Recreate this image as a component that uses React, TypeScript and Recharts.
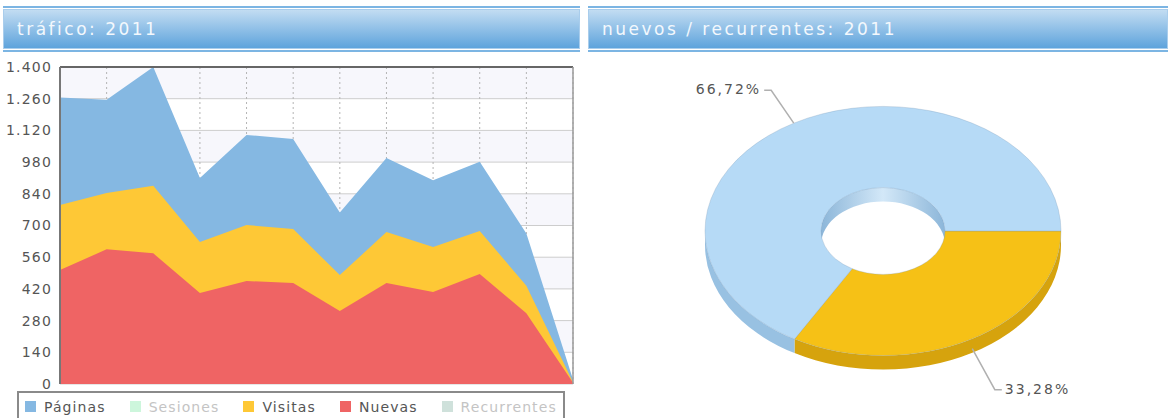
import React from "react";
import {
  AreaChart,
  Area,
  XAxis,
  YAxis,
  CartesianGrid,
  ReferenceLine,
  PieChart,
  Pie,
  Cell,
  Tooltip,
} from "recharts";

// ---- data ----
const months = ["ene", "feb", "mar", "abr", "may", "jun", "jul", "ago", "sep", "oct", "nov", "dic"];
const paginas = [1265, 1255, 1400, 910, 1100, 1082, 757, 998, 900, 981, 665, 20];
const visitas = [790, 843, 876, 627, 702, 684, 481, 671, 605, 676, 434, 8];
const nuevas = [503, 595, 577, 402, 455, 446, 322, 446, 406, 486, 313, 5];
const yTicks = [0, 140, 280, 420, 560, 700, 840, 980, 1120, 1260, 1400];

const legendNames = ["Páginas", "Sesiones", "Visitas", "Nuevas", "Recurrentes"];
const legendColors = ["#85b8e2", "#cdf6dc", "#fec836", "#ef6464", "#cfe1db"];
const legendActive = [true, false, true, true, false];

const pieNames = ["recurrentes", "nuevos"];
const pieValues = [33.28, 66.72];
const pieTop = ["#f6c116", "#b6daf6"];
const pieSide = ["#d6a30d", "#98c1e2"];

const trafficData = months.map((m, i) => ({
  mes: m,
  paginas: paginas[i],
  visitas: visitas[i],
  nuevas: nuevas[i],
}));
const pieData = pieNames.map((n, i) => ({ name: n, value: pieValues[i] }));

// ---- helpers ----
const fmtThousands = (v: number) =>
  v >= 1000 ? `${Math.floor(v / 1000)}.${String(v % 1000).padStart(3, "0")}` : String(v);

const RAD = Math.PI / 180;
const K = 0.7; // ellipse squash
const DEPTH = 14;

const pt = (cx: number, cy: number, rx: number, ry: number, a: number, dy = 0) => [
  cx + rx * Math.cos(a * RAD),
  cy - ry * Math.sin(a * RAD) + dy,
];

const arc = (cx: number, cy: number, rx: number, ry: number, a1: number, a2: number, dy: number, move: boolean) => {
  const [x1, y1] = pt(cx, cy, rx, ry, a1, dy);
  const [x2, y2] = pt(cx, cy, rx, ry, a2, dy);
  const large = Math.abs(a2 - a1) > 180 ? 1 : 0;
  const sweep = a2 < a1 ? 1 : 0;
  return `${move ? "M" : "L"}${x1},${y1} A${rx},${ry} 0 ${large} ${sweep} ${x2},${y2}`;
};

const clip = (lo: number, hi: number, base: number) => {
  const out: number[][] = [];
  for (let k = -2; k <= 2; k++) {
    const a = Math.max(lo, base + 360 * k);
    const b = Math.min(hi, base + 180 + 360 * k);
    if (b - a > 0.01) out.push([a, b]);
  }
  return out;
};

const sideOf = (fill: string) => pieSide[pieTop.indexOf(fill)] || fill;

const WallShape = (p: any) => {
  const { cx, cy, innerRadius, outerRadius, startAngle, endAngle, fill } = p;
  const lo = Math.min(startAngle, endAngle);
  const hi = Math.max(startAngle, endAngle);
  const ro = outerRadius, ri = innerRadius;
  const outer = clip(lo, hi, -180);
  const inner = clip(lo, hi, 0);
  return (
    <g>
      <defs>
        <linearGradient id="innerWall" x1="0" y1="0" x2="1" y2="0">
          <stop offset="0%" stopColor="#8cb6d9" />
          <stop offset="50%" stopColor="#d3e8f8" />
          <stop offset="100%" stopColor="#8cb6d9" />
        </linearGradient>
      </defs>
      {outer.map(([a, b], i) => (
        <path
          key={`o${i}`}
          d={arc(cx, cy, ro, ro * K, b, a, 0, true) + arc(cx, cy, ro, ro * K, a, b, DEPTH, false) + "Z"}
          fill={sideOf(fill)}
        />
      ))}
      {inner.map(([a, b], i) => (
        <path
          key={`i${i}`}
          d={arc(cx, cy, ri, ri * K, b, a, 0, true) + arc(cx, cy, ri, ri * K, a, b, DEPTH, false) + "Z"}
          fill="url(#innerWall)"
        />
      ))}
    </g>
  );
};

const TopShape = (p: any) => {
  const { cx, cy, innerRadius, outerRadius, startAngle, endAngle, fill } = p;
  const ro = outerRadius, ri = innerRadius;
  const d =
    arc(cx, cy, ro, ro * K, startAngle, endAngle, 0, true) +
    arc(cx, cy, ri, ri * K, endAngle, startAngle, 0, false) +
    "Z";
  return <path d={d} fill={fill} stroke="rgba(120,150,180,0.35)" strokeWidth={0.8} />;
};

const PieLabel = (p: any) => {
  const { cx, cy, outerRadius, midAngle, value } = p;
  const ro = outerRadius;
  const c = Math.cos(midAngle * RAD);
  const s = Math.sin(midAngle * RAD);
  const lower = s < 0;
  const [ex, ey] = pt(cx, cy, ro, ro * K, midAngle, lower ? DEPTH * 0.7 : 0);
  const [bx, by] = pt(cx, cy, ro + 45, ro * K + 38, midAngle, lower ? DEPTH + 4 : 0);
  const dir = c >= 0 ? 1 : -1;
  const hx = bx + dir * 7;
  const txt = value.toFixed(2).replace(".", ",") + "%";
  return (
    <g>
      <polyline points={`${ex},${ey} ${bx},${by} ${hx},${by}`} fill="none" stroke="#b0b0b0" strokeWidth={1.5} />
      <text
        x={hx + dir * 3}
        y={by}
        textAnchor={dir > 0 ? "start" : "end"}
        dominantBaseline="middle"
        fill="#555"
        fontSize={14}
        letterSpacing={2}
        fontFamily='"DejaVu Sans", Verdana, sans-serif'
      >
        {txt}
      </text>
    </g>
  );
};

const DashedVertical = (p: any) => (
  <line
    key={p.key}
    x1={p.x1}
    y1={p.y1}
    x2={p.x2}
    y2={p.y2}
    stroke="#b4b4b4"
    strokeWidth={1}
    strokeDasharray="2 3"
    fill="none"
  />
);

const NoTick = () => <g />;

const Header = ({ left, width, title }: { left: number; width: number; title: string }) => (
  <div
    style={{
      position: "absolute",
      left,
      top: 6,
      width,
      height: 46,
      boxSizing: "border-box",
      borderTop: "2px solid #7cb5e3",
      borderBottom: "2px solid #7cb5e3",
      background: "#fff",
    }}
  >
    <div
      style={{
        margin: "1px 0",
        height: 40,
        boxSizing: "border-box",
        border: "1px solid #a9cdec",
        background: "linear-gradient(#c2dcf2, #5ea3dc)",
        color: "#f3f8fd",
        fontSize: 17,
        letterSpacing: 2.5,
        lineHeight: "38px",
        paddingLeft: 13,
        whiteSpace: "nowrap",
      }}
    >
      {title}
    </div>
  </div>
);

const tickStyle = {
  fontSize: 14,
  fill: "#555",
  letterSpacing: 1.2,
  fontFamily: '"DejaVu Sans", Verdana, sans-serif',
};

export default function App() {
  return (
    <div
      style={{
        position: "absolute",
        left: 0,
        top: 0,
        width: 1168,
        height: 418,
        overflow: "hidden",
        background: "#fff",
        fontFamily: '"DejaVu Sans", Verdana, sans-serif',
      }}
    >
      <Header left={3} width={577} title="tráfico: 2011" />
      <Header left={588} width={580} title="nuevos / recurrentes: 2011" />

      <div style={{ position: "absolute", left: 0, top: 0 }}>
        <AreaChart width={580} height={418} data={trafficData} margin={{ top: 67, right: 7, left: 0, bottom: 34 }}>
          <CartesianGrid
            stroke="#cdcdcd"
            horizontalFill={["#dcdcf0", "transparent"]}
            fillOpacity={0.22}
            vertical={DashedVertical}
          />
          <XAxis dataKey="mes" tick={NoTick} tickLine={false} height={0} axisLine={{ stroke: "#777", strokeWidth: 2 }} />
          <YAxis
            width={60}
            domain={[0, 1400]}
            ticks={yTicks}
            interval={0}
            tickFormatter={fmtThousands}
            tickLine={false}
            axisLine={{ stroke: "#777", strokeWidth: 2 }}
            tick={tickStyle}
          />
          <Area type="linear" dataKey="paginas" stroke="none" fill="#85b8e2" fillOpacity={1} isAnimationActive={false} dot={false} activeDot={false} />
          <Area type="linear" dataKey="visitas" stroke="none" fill="#fec836" fillOpacity={1} isAnimationActive={false} dot={false} activeDot={false} />
          <Area type="linear" dataKey="nuevas" stroke="none" fill="#ef6464" fillOpacity={1} isAnimationActive={false} dot={false} activeDot={false} />
          <ReferenceLine y={1400} stroke="#666" strokeWidth={2} />
          <ReferenceLine x="dic" stroke="#9a9a9a" strokeWidth={1.5} />
        </AreaChart>
      </div>

      <div
        style={{
          position: "absolute",
          left: 17,
          top: 391,
          width: 548,
          height: 40,
          boxSizing: "border-box",
          border: "2px solid #8a8a8a",
          display: "flex",
          paddingLeft: 6,
          paddingTop: 8,
          fontSize: 14,
          letterSpacing: 1.1,
          lineHeight: "13px",
        }}
      >
        {legendNames.map((n, i) => (
          <div key={n} style={{ display: "flex", alignItems: "flex-start", marginRight: 24 }}>
            <div style={{ width: 11, height: 11, background: legendColors[i], marginRight: 8 }} />
            <span style={{ color: legendActive[i] ? "#555" : "#c4c4c4" }}>{n}</span>
          </div>
        ))}
      </div>

      <div style={{ position: "absolute", left: 588, top: 55 }}>
        <PieChart width={580} height={363}>
          <Pie
            data={pieData}
            dataKey="value"
            cx={290}
            cy={171}
            innerRadius={62}
            outerRadius={178}
            startAngle={0}
            endAngle={-360}
            stroke="none"
            isAnimationActive={false}
            shape={WallShape}
            activeShape={WallShape}
            inactiveShape={WallShape}
          >
            {pieData.map((d, i) => (
              <Cell key={d.name} fill={pieTop[i]} />
            ))}
          </Pie>
          <Pie
            data={pieData}
            dataKey="value"
            cx={290}
            cy={171}
            innerRadius={62}
            outerRadius={178}
            startAngle={0}
            endAngle={-360}
            stroke="none"
            isAnimationActive={false}
            shape={TopShape}
            activeShape={TopShape}
            inactiveShape={TopShape}
            label={PieLabel}
            labelLine={false}
          >
            {pieData.map((d, i) => (
              <Cell key={d.name} fill={pieTop[i]} />
            ))}
          </Pie>
          <Tooltip defaultIndex={0} content={() => null} cursor={false} />
        </PieChart>
      </div>
    </div>
  );
}
